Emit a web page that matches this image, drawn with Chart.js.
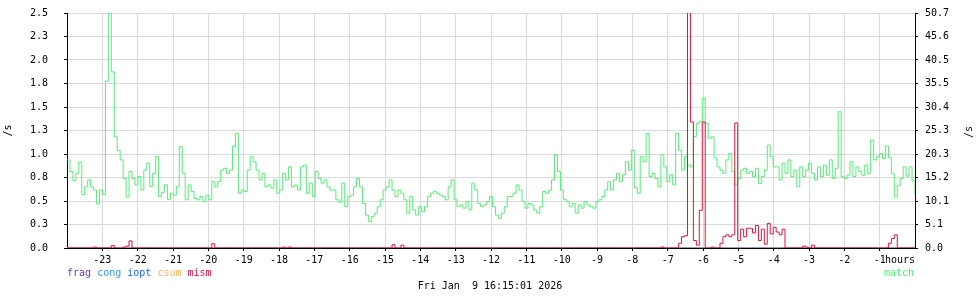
<!DOCTYPE html>
<html>
<head>
<meta charset="utf-8">
<script src="https://cdn.jsdelivr.net/npm/chart.js@4/dist/chart.umd.min.js"></script>
<style>
html,body{margin:0;padding:0;background:#fff;}
#wrap{position:relative;width:980px;height:300px;font-family:"DejaVu Sans Mono",monospace;font-size:10px;color:#000;}
#c{position:absolute;left:0;top:0;width:980px;height:300px;}
.t{position:absolute;white-space:pre;line-height:12px;}
</style>
</head>
<body>
<div id="wrap">
<canvas id="c" width="980" height="300"></canvas>
<div class="t" id="legLeft" style="left:67px;top:267px;"></div>
<div class="t" id="legRight" style="right:66px;top:267px;"></div>
<div class="t" id="stamp" style="left:0;width:980px;text-align:center;top:280px;"></div>
<div class="t" id="unit" style="left:885px;top:254px;"></div>
<div class="t" id="rightTitle" style="left:963px;top:126px;width:12px;text-align:center;transform:rotate(-90deg);"></div>
</div>
<script>
// ---- data ----
const seriesNames = ['frag', 'cong', 'iopt', 'csum', 'mism', 'match'];
const seriesColors = ['#6b3fa0', '#3399ff', '#1a66ff', '#ffb366', '#e0143c', '#55ee77'];
const timeStamp = 'Fri Jan  9 16:15:01 2026';
const xUnit = 'hours';
const axisUnit = '/s';

const hourTicks = [-23,-22,-21,-20,-19,-18,-17,-16,-15,-14,-13,-12,-11,-10,-9,-8,-7,-6,-5,-4,-3,-2,-1];
const leftTickValues = [0,0.25,0.5,0.75,1.0,1.25,1.5,1.75,2.0,2.25,2.5];
const leftTickLabels = ['0.0','0.3','0.5','0.8','1.0','1.3','1.5','1.8','2.0','2.3','2.5'];
const rightTickValues = [0,5.07,10.14,15.21,20.28,25.35,30.42,35.49,40.56,45.63,50.7];
const rightTickLabels = ['0.0','5.1','10.1','15.2','20.3','25.3','30.4','35.5','40.5','45.6','50.7'];

// 288 samples (5 min) from -24h to 0h
const fragValues = [
0,0,0,0,0,0,0,0,0,0,0,0, 0,0,0,0,0,0,0,0,0,0,0,0, 0,0,0,0,0,0,0,0,0,0,0,0, 0,0,0,0,0,0,0,0,0,0,0,0,
0,0,0,0,0,0,0,0,0,0,0,0, 0,0,0,0,0,0,0,0,0,0,0,0, 0,0,0,0,0,0,0,0,0,0,0,0, 0,0,0,0,0,0,0,0,0,0,0,0,
0,0,0,0,0,0,0,0,0,0,0,0, 0,0,0,0,0,0,0,0,0,0,0,0, 0,0,0,0,0,0,0,0,0,0,0,0, 0,0,0,0,0,0,0,0,0,0,0,0,
0,0,0,0,0,0,0,0,0,0,0,0, 0,0,0,0,0,0,0,0,0,0,0,0, 0,0,0,0,0,0,0,0,0,0,0,0, 0,0,0,0,0,0,0,0,0,0,0,0,
0,0,0,0,0,0,0,0,0,0,0,0, 0,0,0,0,0,0,0,0,0,0,0,0, 0,0,0,0,0,0,0,0,0,0,0,0, 0,0,0,0,0,0,0,0,0,0,0,0,
0,0,0,0,0,0,0,0,0,0,0,0, 0,0,0,0,0,0,0,0,0,0,0,0, 0,0,0,0,0,0,0,0,0,0,0,0, 0,0,0,0,0,0,0,0,0,0,0,0];
const congValues = [
0,0,0,0,0,0,0,0,0,0,0,0, 0,0,0,0,0,0,0,0,0,0,0,0, 0,0,0,0,0,0,0,0,0,0,0,0, 0,0,0,0,0,0,0,0,0,0,0,0,
0,0,0,0,0,0,0,0,0,0,0,0, 0,0,0,0,0,0,0,0,0,0,0,0, 0,0,0,0,0,0,0,0,0,0,0,0, 0,0,0,0,0,0,0,0,0,0,0,0,
0,0,0,0,0,0,0,0,0,0,0,0, 0,0,0,0,0,0,0,0,0,0,0,0, 0,0,0,0,0,0,0,0,0,0,0,0, 0,0,0,0,0,0,0,0,0,0,0,0,
0,0,0,0,0,0,0,0,0,0,0,0, 0,0,0,0,0,0,0,0,0,0,0,0, 0,0,0,0,0,0,0,0,0,0,0,0, 0,0,0,0,0,0,0,0,0,0,0,0,
0,0,0,0,0,0,0,0,0,0,0,0, 0,0,0,0,0,0,0,0,0,0,0,0, 0,0,0,0,0,0,0,0,0,0,0,0, 0,0,0,0,0,0,0,0,0,0,0,0,
0,0,0,0,0,0,0,0,0,0,0,0, 0,0,0,0,0,0,0,0,0,0,0,0, 0,0,0,0,0,0,0,0,0,0,0,0, 0,0,0,0,0,0,0,0,0,0,0,0];
const ioptValues = [
0,0,0,0,0,0,0,0,0,0,0,0, 0,0,0,0,0,0,0,0,0,0,0,0, 0,0,0,0,0,0,0,0,0,0,0,0, 0,0,0,0,0,0,0,0,0,0,0,0,
0,0,0,0,0,0,0,0,0,0,0,0, 0,0,0,0,0,0,0,0,0,0,0,0, 0,0,0,0,0,0,0,0,0,0,0,0, 0,0,0,0,0,0,0,0,0,0,0,0,
0,0,0,0,0,0,0,0,0,0,0,0, 0,0,0,0,0,0,0,0,0,0,0,0, 0,0,0,0,0,0,0,0,0,0,0,0, 0,0,0,0,0,0,0,0,0,0,0,0,
0,0,0,0,0,0,0,0,0,0,0,0, 0,0,0,0,0,0,0,0,0,0,0,0, 0,0,0,0,0,0,0,0,0,0,0,0, 0,0,0,0,0,0,0,0,0,0,0,0,
0,0,0,0,0,0,0,0,0,0,0,0, 0,0,0,0,0,0,0,0,0,0,0,0, 0,0,0,0,0,0,0,0,0,0,0,0, 0,0,0,0,0,0,0,0,0,0,0,0,
0,0,0,0,0,0,0,0,0,0,0,0, 0,0,0,0,0,0,0,0,0,0,0,0, 0,0,0,0,0,0,0,0,0,0,0,0, 0,0,0,0,0,0,0,0,0,0,0,0];
const csumValues = [
0,0,0,0,0,0,0,0,0,0,0,0, 0,0,0,0,0,0,0,0,0,0,0,0, 0,0,0,0,0,0,0,0,0,0,0,0, 0,0,0,0,0,0,0,0,0,0,0,0,
0,0,0,0,0,0,0,0,0,0,0,0, 0,0,0,0,0,0,0,0,0,0,0,0, 0,0,0,0,0,0,0,0,0,0,0,0, 0,0,0,0,0,0,0,0,0,0,0,0,
0,0,0,0,0,0,0,0,0,0,0,0, 0,0,0,0,0,0,0,0,0,0,0,0, 0,0,0,0,0,0,0,0,0,0,0,0, 0,0,0,0,0,0,0,0,0,0,0,0,
0,0,0,0,0,0,0,0,0,0,0,0, 0,0,0,0,0,0,0,0,0,0,0,0, 0,0,0,0,0,0,0,0,0,0,0,0, 0,0,0,0,0,0,0,0,0,0,0,0,
0,0,0,0,0,0,0,0,0,0,0,0, 0,0,0,0,0,0,0,0,0,0,0,0, 0,0,0,0,0,0,0,0,0,0,0,0, 0,0,0,0,0,0,0,0,0,0,0,0,
0,0,0,0,0,0,0,0,0,0,0,0, 0,0,0,0,0,0,0,0,0,0,0,0, 0,0,0,0,0,0,0,0,0,0,0,0, 0,0,0,0,0,0,0,0,0,0,0,0];
const mismValues = [
0,0,0,0,0,0,0,0,0,0.01,0,0,
0,0,0,0.025,0,0,0,0.01,0.02,0.075,0,0,
0,0,0,0,0,0,0,0,0,0,0,0,
0,0,0,0,0,0,0,0,0,0,0,0,
0,0.045,0,0,0,0,0,0,0,0,0,0,
0,0,0,0,0,0,0,0,0,0,0,0,
0,0.01,0,0.01,0,0,0,0,0,0,0,0,
0,0,0,0,0,0,0,0,0,0,0,0,
0,0,0,0,0,0,0,0,0,0,0,0,
0,0,0.035,0,0,0.03,0,0,0,0,0,0,
0,0,0,0,0,0,0,0,0,0,0,0,
0,0,0,0,0,0,0,0,0,0,0,0,
0,0,0,0,0,0,0,0,0,0,0,0,
0,0,0,0,0,0,0,0,0,0,0,0,
0,0,0,0,0,0,0,0,0,0,0,0,
0,0,0,0,0,0,0,0,0,0,0,0,
0,0,0,0,0,0,0,0,0,0.01,0,0,
0,0,0,0.05,0.12,0.13,2.6,1.34,0.08,0.03,0.4,1.34,
0,0,0.01,0,0,0.05,0.12,0.14,0.12,0.14,1.33,0.08,
0.2,0.12,0.21,0.21,0.16,0.24,0.08,0.2,0.04,0.26,0.15,0.22,
0.17,0.14,0.2,0,0,0,0,0,0,0.02,0.01,0,
0.03,0,0,0,0,0,0,0,0,0,0,0,
0,0,0,0,0,0,0,0,0,0,0,0,
0,0,0.05,0.1,0.14,0,0,0,0,0,0,0];
const matchValues = [
19.0,16.5,14.5,16.1,18.5,11.5,13.2,14.7,13.2,12.5,9.5,12.5,
11.5,36.0,50.7,38.0,24.0,21.0,19.0,15.0,11.0,16.5,15.0,13.6,
15.4,12.5,16.8,18.3,13.2,16.1,19.7,11.1,12.0,13.6,10.5,11.8,
11.4,13.2,21.9,16.1,10.4,13.6,12.2,10.7,10.4,11.1,10.0,11.4,
10.4,14.3,13.2,14.3,16.8,17.2,16.1,16.8,21.9,24.7,11.8,12.5,
12.2,16.8,19.7,18.6,16.8,14.7,16.1,13.2,13.6,12.9,14.7,11.8,
12.5,16.1,14.7,17.5,13.2,13.6,12.5,17.5,17.9,11.8,14.0,11.1,
16.5,15.0,14.0,14.7,13.2,12.5,12.5,10.4,9.9,14.0,8.9,11.1,
11.4,13.2,15.0,13.2,9.6,7.1,5.7,6.8,7.5,8.9,10.4,12.5,
13.2,14.7,12.5,11.1,12.5,11.8,10.4,7.5,11.1,8.2,7.1,8.9,
7.8,8.9,11.1,11.8,12.2,11.8,11.4,11.1,10.4,13.2,14.7,10.4,
8.9,9.3,8.6,10.0,8.2,14.0,12.5,9.6,8.9,9.3,10.0,11.1,
8.9,7.1,6.4,7.5,8.9,11.1,11.1,11.8,13.6,12.5,10.0,8.6,
9.6,9.3,8.2,7.5,8.9,12.2,11.8,12.5,14.7,20.1,16.5,12.5,
10.5,10.0,8.9,9.6,7.5,9.3,8.6,10.0,9.3,8.9,8.6,10.0,
10.4,11.1,12.5,14.3,12.5,14.7,16.1,14.3,15.8,18.6,16.8,21.1,
13.0,11.8,19.7,18.6,24.7,15.4,16.1,15.0,13.2,20.1,17.5,14.3,
15.8,13.6,24.7,21.1,16.8,19.7,17.9,17.5,24.0,26.9,27.3,32.3,
26.9,23.7,24.0,19.4,17.5,16.8,16.1,19.0,20.4,16.5,13.6,15.0,
16.8,17.2,16.1,16.5,15.4,17.2,13.9,15.4,16.8,22.2,19.7,17.5,
17.5,14.7,18.3,16.1,19.0,15.4,16.8,13.2,17.5,15.4,16.8,18.3,
16.1,14.7,17.5,15.4,17.9,15.7,19.0,15.0,17.2,29.4,15.4,15.0,
15.7,18.6,15.4,17.5,16.5,15.7,17.9,16.1,23.3,19.0,19.7,20.4,
19.3,22.0,19.5,16.0,11.0,13.5,15.0,17.5,15.5,17.5,14.5,11.5];

const xStart = -24, xEnd = 0;

// ---- build ----
function toPoints(vals) {
  const n = vals.length;
  return vals.map((v, i) => ({ x: xStart + i * (xEnd - xStart) / (n - 1), y: v }));
}
const leftSeries = [fragValues, congValues, ioptValues, csumValues, mismValues];
const datasets = leftSeries.map((vals, k) => ({
  label: seriesNames[k],
  data: toPoints(vals),
  borderColor: seriesColors[k],
  borderWidth: 1,
  pointRadius: 0,
  stepped: true,
  fill: false,
  yAxisID: 'y',
  order: 5 - k
}));
datasets.push({
  label: seriesNames[5],
  data: toPoints(matchValues),
  borderColor: seriesColors[5],
  borderWidth: 1,
  pointRadius: 0,
  stepped: true,
  fill: false,
  yAxisID: 'y1',
  order: 6
});

// HTML texts
const legLeft = document.getElementById('legLeft');
for (let k = 0; k < 5; k++) {
  const s = document.createElement('span');
  s.style.color = seriesColors[k];
  s.textContent = seriesNames[k];
  legLeft.appendChild(s);
  if (k < 4) legLeft.appendChild(document.createTextNode(' '));
}
const legRight = document.getElementById('legRight');
legRight.style.color = seriesColors[5];
legRight.textContent = seriesNames[5];
document.getElementById('stamp').textContent = timeStamp;
document.getElementById('unit').textContent = xUnit;
document.getElementById('rightTitle').textContent = axisUnit;

Chart.defaults.font.family = '"DejaVu Sans Mono", monospace';
Chart.defaults.font.size = 10;
Chart.defaults.color = '#000';

const gridColor = '#dadada';

new Chart(document.getElementById('c'), {
  type: 'line',
  data: { datasets },
  options: {
    responsive: false,
    devicePixelRatio: 1,
    animation: false,
    events: [],
    layout: { padding: { top: 13, left: 0, right: 0, bottom: 0 } },
    plugins: { legend: { display: false }, tooltip: { enabled: false } },
    scales: {
      x: {
        type: 'linear',
        min: xStart, max: xEnd,
        afterFit: s => { s.height = 52; s.paddingLeft = 0; s.paddingRight = 0; },
        afterBuildTicks: s => { s.ticks = hourTicks.map(v => ({ value: v })); },
        ticks: { autoSkip: false, maxRotation: 0, padding: 3, callback: (v) => String(v) },
        grid: { color: gridColor, tickColor: '#000', tickLength: 3, lineWidth: 1 },
        border: { display: true, color: '#000', width: 1 }
      },
      y: {
        position: 'left',
        min: 0, max: 2.5,
        afterFit: s => { s.width = 67; s.paddingTop = 0; s.paddingBottom = 0; },
        afterBuildTicks: s => { s.ticks = leftTickValues.map(v => ({ value: v })); },
        ticks: { autoSkip: false, padding: 16, callback: (v, i) => leftTickLabels[i] },
        grid: { color: gridColor, tickColor: '#000', tickLength: 3 },
        border: { display: true, color: '#000', width: 1 },
        title: { display: true, text: axisUnit, padding: { top: 2, bottom: 0 }, font: { size: 10 } }
      },
      y1: {
        position: 'right',
        min: 0, max: 50.7,
        afterFit: s => { s.width = 65; s.paddingTop = 0; s.paddingBottom = 0; },
        afterBuildTicks: s => { s.ticks = rightTickValues.map(v => ({ value: v })); },
        ticks: { autoSkip: false, padding: 7, callback: (v, i) => rightTickLabels[i] },
        grid: { drawOnChartArea: false, tickColor: '#000', tickLength: 3 },
        border: { display: true, color: '#000', width: 1 },
        title: { display: false }
      }
    }
  }
});
</script>
</body>
</html>
